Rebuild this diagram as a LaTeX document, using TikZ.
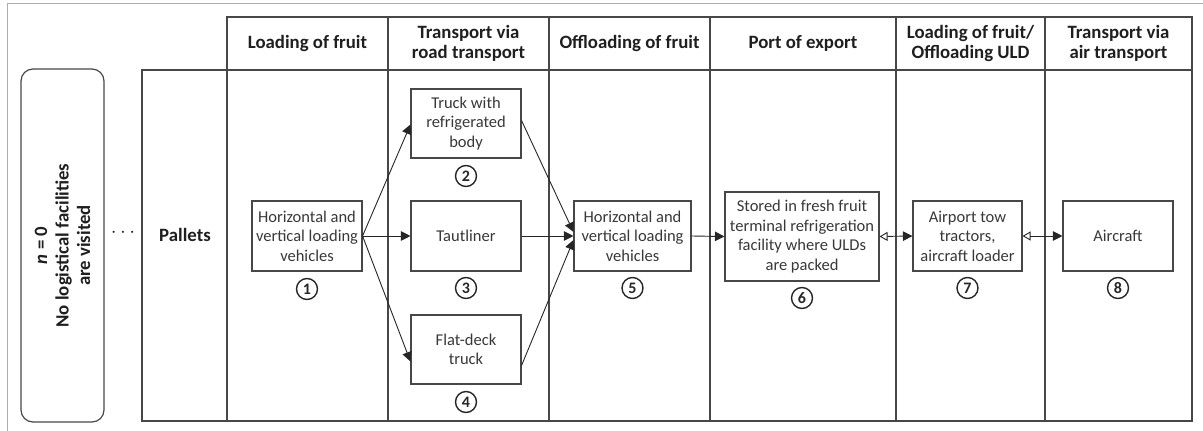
\documentclass[tikz,border=0pt]{standalone}
\usepackage{fontspec}
\setmainfont{Carlito}
\usetikzlibrary{arrows.meta}
\definecolor{ln}{gray}{0.28}
\definecolor{txt}{gray}{0.22}
\definecolor{frm}{gray}{0.68}

\begin{document}
\begin{tikzpicture}[x=1pt,y=-1pt,
  hdr/.style={draw=ln, line width=1.2pt, minimum height=53pt, inner sep=0pt, align=center,
              font=\fontsize{18.8}{20.5}\selectfont\bfseries, text=black!88},
  cell/.style={draw=ln, line width=1.2pt, minimum height=351pt, inner sep=0pt},
  box/.style={draw=ln, line width=1.1pt, inner sep=0pt, align=center,
              font=\fontsize{16.5}{19.5}\selectfont, text=txt},
  num/.style={draw=black!85, circle, line width=1.4pt, minimum size=21pt, inner sep=0pt,
              font=\fontsize{16}{16}\selectfont\bfseries, text=black!85},
  arr/.style={draw=black!85, line width=0.9pt, -{Triangle[length=9.5pt,width=9.5pt]}},
  biarr/.style={draw=black!85, line width=0.9pt,
                {Triangle[open,length=8pt,width=9pt]}-{Triangle[length=9.5pt,width=9.5pt]}}
]
\useasboundingbox (0,0) rectangle (1203,431);

% outer frame
\draw[frm, line width=1pt] (7,431) -- (7,3) -- (1203,3);

% left summary box
\node[draw=ln, line width=1.2pt, rounded corners=12pt, rotate=90,
      minimum width=353pt, minimum height=83pt, inner sep=0pt, align=center,
      font=\fontsize{18.8}{21.5}\selectfont\bfseries, text=black!88]
      (nzero) at (62.5,245.5) {\textit{n} = 0\\No logistical facilities\\are visited};
\node[font=\fontsize{22}{22}\selectfont, text=black!85] (dots) at (123,233) {$\cdots$};

% column headers
\node[hdr, minimum width=161pt] (h1) at (307.5,43.5) {Loading of fruit};
\node[hdr, minimum width=161pt] (h2) at (468.5,43.5) {Transport via\\road transport};
\node[hdr, minimum width=161pt] (h3) at (629.5,43.5) {Offloading of fruit};
\node[hdr, minimum width=186pt] (h4) at (803,43.5) {Port of export};
\node[hdr, minimum width=149pt] (h5) at (970.5,43.5) {Loading of fruit/\\Offloading ULD};
\node[hdr, minimum width=147pt] (h6) at (1118.5,43.5) {Transport via\\air transport};

% body cells
\node[cell, minimum width=85pt]  (c0) at (184.5,245.5) {};
\node[cell, minimum width=161pt] (c1) at (307.5,245.5) {};
\node[cell, minimum width=161pt] (c2) at (468.5,245.5) {};
\node[cell, minimum width=161pt] (c3) at (629.5,245.5) {};
\node[cell, minimum width=186pt] (c4) at (803,245.5) {};
\node[cell, minimum width=149pt] (c5) at (970.5,245.5) {};
\node[cell, minimum width=147pt] (c6) at (1118.5,245.5) {};
\node[font=\fontsize{18.8}{21}\selectfont\bfseries, text=black!88] (pallets) at (185,235) {Pallets};

% process boxes
\node[box, minimum width=110pt, minimum height=70pt] (b1) at (307,236) {Horizontal and\\vertical loading\\vehicles};
\node[box, minimum width=110pt, minimum height=69pt] (b2) at (466,123.5) {Truck with\\refrigerated\\body};
\node[box, minimum width=110pt, minimum height=70pt] (b3) at (466,236) {Tautliner};
\node[box, minimum width=110pt, minimum height=69pt] (b4) at (466,349.5) {Flat-deck\\truck};
\node[box, minimum width=117pt, minimum height=70pt] (b5) at (632.5,236) {Horizontal and\\vertical loading\\vehicles};
\node[box, minimum width=154pt, minimum height=89pt] (b6) at (802,236.5) {Stored in fresh fruit\\terminal refrigeration\\facility where ULDs\\are packed};
\node[box, minimum width=109pt, minimum height=70pt] (b7) at (967.5,236) {Airport tow\\tractors,\\aircraft loader};
\node[box, minimum width=110pt, minimum height=70pt] (b8) at (1118,236) {Aircraft};

% step numbers
\node[num] (n1) at (307,289) {1};
\node[num] (n2) at (466,176) {2};
\node[num] (n3) at (466,288) {3};
\node[num] (n4) at (466,402) {4};
\node[num] (n5) at (632.5,288) {5};
\node[num] (n6) at (802,298) {6};
\node[num] (n7) at (967.5,288) {7};
\node[num] (n8) at (1118,288) {8};

% flows
\draw[arr] (b1.east) -- ([yshift=-1pt]b2.west);
\draw[arr] (b1.east) -- (b3.west);
\draw[arr] (b1.east) -- ([yshift=-12pt]b4.west);
\draw[arr] ([yshift=3pt]b2.east) -- ([yshift=4pt]b5.west);
\draw[arr] (b3.east) -- (b5.west);
\draw[arr] ([yshift=-16pt]b4.east) -- ([yshift=-4pt]b5.west);
\draw[arr] (b5.east) -- (b6.west);
\draw[biarr] (b6.east) -- (b7.west);
\draw[biarr] (b7.east) -- (b8.west);
\end{tikzpicture}
\end{document}
